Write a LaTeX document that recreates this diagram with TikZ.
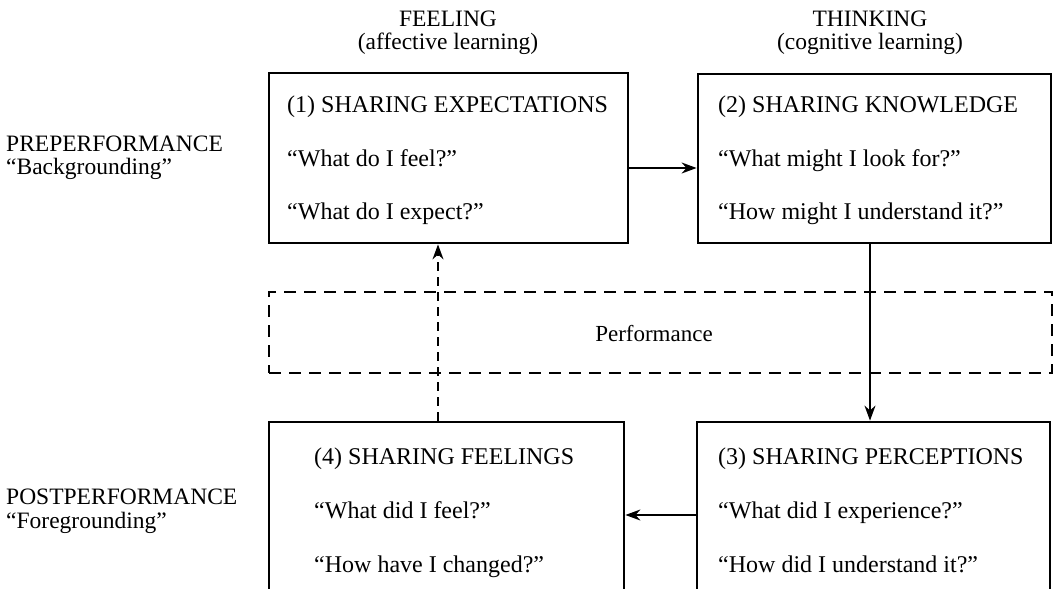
\documentclass[tikz,border=0pt]{standalone}
\usepackage{fontspec}
\setmainfont{Liberation Serif}
\usetikzlibrary{arrows.meta}
\begin{document}
\begin{tikzpicture}[x=1pt,y=-1pt,
  stagebox/.style={draw, line width=2.8pt, rectangle, inner sep=0pt},
  perfbox/.style={draw, line width=2.8pt, rectangle, inner sep=0pt,
    dash pattern=on 12pt off 8pt},
  boxtext/.style={anchor=base west, inner sep=0pt, font=\fontsize{24}{28}\selectfont},
  sidetext/.style={anchor=base west, inner sep=0pt, font=\fontsize{23.5}{28}\selectfont},
  headtext/.style={anchor=base, inner sep=0pt, font=\fontsize{23.5}{28}\selectfont},
  flow/.style={line width=1.8pt, -{Stealth[length=15pt,width=11pt]}},
  dashflow/.style={flow, dash pattern=on 9pt off 6pt}]
\useasboundingbox (0,0) rectangle (1053,589);

% the four stages and the performance band
\node[stagebox, minimum width=359pt, minimum height=170pt] (b1) at (448.5,158) {};
\node[stagebox, minimum width=353pt, minimum height=169pt] (b2) at (874.5,158.5) {};
\node[perfbox, minimum width=783pt, minimum height=81pt] (perf) at (660.5,332.5) {};
\node[stagebox, minimum width=355pt, minimum height=170pt] (b4) at (446.5,507) {};
\node[stagebox, minimum width=353pt, minimum height=170pt] (b3) at (873.5,507) {};

% column and row headings
\node[headtext] (feel) at (448,26) {FEELING};
\node[headtext] (feelsub) at (448,49) {(affective learning)};
\node[headtext] (think) at (870,26) {THINKING};
\node[headtext] (thinksub) at (870,49) {(cognitive learning)};
\node[sidetext] (pre) at (6,151) {PREPERFORMANCE};
\node[sidetext] (presub) at (6,174) {“Backgrounding”};
\node[sidetext] (post) at (6,504) {POSTPERFORMANCE};
\node[sidetext] (postsub) at (6,528) {“Foregrounding”};

% box contents
\node[boxtext] (t1a) at (287,112) {(1) SHARING EXPECTATIONS};
\node[boxtext] (t1b) at (287,166) {“What do I feel?”};
\node[boxtext] (t1c) at (287,219) {“What do I expect?”};
\node[boxtext] (t2a) at (718,112) {(2) SHARING KNOWLEDGE};
\node[boxtext] (t2b) at (718,166) {“What might I look for?”};
\node[boxtext] (t2c) at (718,219) {“How might I understand it?”};
\node[boxtext] (t4a) at (314,464) {(4) SHARING FEELINGS};
\node[boxtext] (t4b) at (314,518) {“What did I feel?”};
\node[boxtext] (t4c) at (314,572) {“How have I changed?”};
\node[boxtext] (t3a) at (718,464) {(3) SHARING PERCEPTIONS};
\node[boxtext] (t3b) at (718,518) {“What did I experience?”};
\node[boxtext] (t3c) at (718,572) {“How did I understand it?”};
\node[anchor=base, inner sep=0pt, font=\fontsize{23}{27}\selectfont] (perflabel) at (654,341) {Performance};

% connector rows and columns
\coordinate (rowtop) at (0,168);
\coordinate (rowbot) at (0,515);
\coordinate (colleft) at (438,0);
\coordinate (colright) at (870,0);

\draw[flow] (b1.east |- rowtop) -- (b2.west |- rowtop);
\draw[flow] (b2.south -| colright) -- (b3.north -| colright);
\draw[flow] (b3.west |- rowbot) -- (b4.east |- rowbot);
\draw[dashflow] (b4.north -| colleft) -- (b1.south -| colleft);
\end{tikzpicture}
\end{document}
